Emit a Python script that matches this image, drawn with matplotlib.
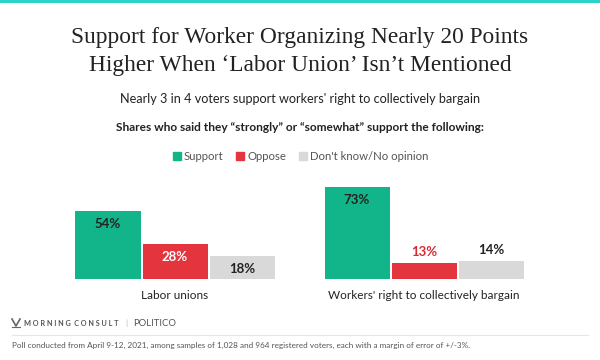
import matplotlib.pyplot as plt
import numpy as np
from matplotlib.lines import Line2D
from matplotlib.patches import Rectangle

# data
categories = ["Labor unions", "Workers' right to collectively bargain"]
series = ["Support", "Oppose", "Don't know/No opinion"]
support = [54, 73]
oppose = [28, 13]
no_opinion = [18, 14]

colors = ["#12b589", "#e4343d", "#d9d9d9"]
SANS = ["Lato", "DejaVu Sans"]
SERIF = ["Liberation Serif", "DejaVu Serif"]

fig = plt.figure(figsize=(6, 3.6), dpi=100)
W, H = 600, 360

# teal band on top
fig.add_artist(Rectangle((0, 1 - 3 / H), 1, 3 / H, transform=fig.transFigure,
                         color="#2cd3c8", lw=0))

fig.text(0.5, 1 - 38 / H, "Support for Worker Organizing Nearly 20 Points",
         ha="center", va="center", fontsize=16.8, family=SERIF, color="#222222")
fig.text(0.5, 1 - 65 / H, "Higher When \u2018Labor Union\u2019 Isn\u2019t Mentioned",
         ha="center", va="center", fontsize=16.8, family=SERIF, color="#222222")
fig.text(0.5, 1 - 99 / H, "Nearly 3 in 4 voters support workers' right to collectively bargain",
         ha="center", va="center", fontsize=9.1, family=SANS, color="#222222")
fig.text(0.5, 1 - 127 / H,
         "Shares who said they \u201cstrongly\u201d or \u201csomewhat\u201d support the following:",
         ha="center", va="center", fontsize=8.6, family=SANS, weight="bold", color="#222222")

# bars
ax = fig.add_axes([0, 81 / H, 1, 110 / H])
x = np.arange(len(categories))
step = 67 / 249
bw = 65 / 249
px_per_pct = 1.26
values = [support, oppose, no_opinion]
for i, (vals, col) in enumerate(zip(values, colors)):
    pos = x + (i - 1) * step
    ax.bar(pos, vals, width=bw, color=col, lw=0)
    for p, v in zip(pos, vals):
        if v * px_per_pct > 20:
            tcol = "white" if i == 1 else "#222222"
            ax.annotate(f"{v}%", (p, v), xytext=(0, -13 * 0.72), textcoords="offset points",
                        ha="center", va="center", fontsize=9.5, weight="bold",
                        family=SANS, color=tcol)
        else:
            tcol = "#d62b35" if i == 1 else "#222222"
            ax.annotate(f"{v}%", (p, v), xytext=(0, 11 * 0.72), textcoords="offset points",
                        ha="center", va="center", fontsize=9.5, weight="bold",
                        family=SANS, color=tcol)

ax.set_xlim(-175 / 249, (W - 175) / 249)
ax.set_ylim(0, 110 / px_per_pct)
ax.set_xticks(x)
ax.set_xticklabels(categories, fontsize=8.5, family=SANS, color="#222222")
ax.tick_params(axis="x", length=0, pad=8)
ax.set_yticks([])
for s in ax.spines.values():
    s.set_visible(False)
ax.patch.set_alpha(0)

# legend
handles = [Line2D([], [], marker="s", ls="", color=c, markersize=5.5) for c in colors]
fig.legend(handles, series, loc="center", bbox_to_anchor=(301 / W, 1 - 156 / H),
           ncol=3, frameon=False, handlelength=0.6, handletextpad=0.3,
           columnspacing=1.2, prop={"family": SANS, "size": 8.2},
           labelcolor="#555555")

# footer: small chevron logo mark drawn as lines
fig.add_artist(Line2D([12 / W, 16 / W, 20 / W], [1 - 319 / H, 1 - 326 / H, 1 - 319 / H],
                      transform=fig.transFigure, color="#666666", lw=1.2))
fig.add_artist(Line2D([12 / W, 20 / W], [1 - 327 / H, 1 - 327 / H],
                      transform=fig.transFigure, color="#666666", lw=0.8))
fig.text(24 / W, 1 - 323 / H, "M O R N I N G  C O N S U L T", fontsize=5.2,
         weight="bold", family=SANS, color="#555555", va="center")
fig.text(125 / W, 1 - 323 / H, "|", fontsize=6, family=SANS, color="#bbbbbb", va="center")
fig.text(133 / W, 1 - 323 / H, "POLITICO", fontsize=6.8, family=SANS, color="#555555",
         va="center")
fig.add_artist(Line2D([12 / W, 588 / W], [1 - 335 / H, 1 - 335 / H],
                      transform=fig.transFigure, color="#e6e6e6", lw=0.8))
fig.text(12 / W, 1 - 345 / H,
         "Poll conducted from April 9-12, 2021, among samples of 1,028 and 964 registered "
         "voters, each with a margin of error of +/-3%.",
         fontsize=5.9, family=SANS, color="#555555", va="center")

fig.savefig("out.png", dpi=100, facecolor="white")
